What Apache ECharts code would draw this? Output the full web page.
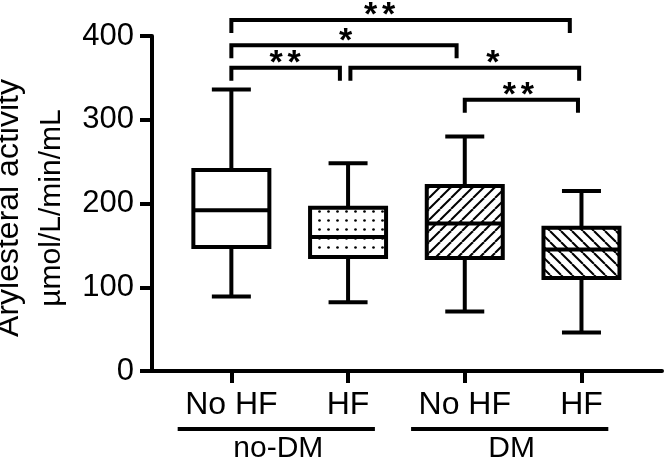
<!DOCTYPE html>
<html><head><meta charset="utf-8">
<script src="https://cdn.jsdelivr.net/npm/echarts@6/dist/echarts.min.js"></script>
<style>html,body{margin:0;padding:0;background:#fff}#c{width:664px;height:463px}</style>
</head><body><div id="c"></div>
<script>
const categories = ['No HF', 'HF', 'No HF', 'HF'];
const groupNames = ['no-DM', 'DM'];
const groupMembers = [[1, 2], [3, 4]];
const whiskerLow = [89, 82, 71, 46];
const q1 = [148, 136, 135, 111];
const median = [192, 160, 176, 145];
const q3 = [240, 195, 221, 171];
const whiskerHigh = [336, 248, 280, 215];
const yTickValues = [0, 100, 200, 300, 400];
const bracketFrom = [1, 1, 1, 2.02, 3.0];
const bracketTo = [3.9, 2.93, 1.93, 3.98, 3.97];
const bracketLevel = [419, 389, 362, 362, 324];
const bracketStars = ['**', '*', '**', '*', '**'];
const bracketStarX = [2.27, 1.98, 1.46, 3.24, 3.46];
const yNameLines = ['Arylesteral activity', 'µmol/L/min/mL'];

const FONT = '"Liberation Sans", Arial, sans-serif';

function makePattern(kind) {
  const c = document.createElement('canvas');
  const ctx = c.getContext('2d');
  if (kind === 'dots') {
    c.width = 9; c.height = 9;
    ctx.fillStyle = '#fff'; ctx.fillRect(0, 0, 9, 9);
    ctx.fillStyle = '#000';
    ctx.beginPath(); ctx.arc(4.5, 4.5, 1.35, 0, Math.PI * 2); ctx.fill();
  } else {
    const s = 11;
    c.width = s; c.height = s;
    ctx.fillStyle = '#fff'; ctx.fillRect(0, 0, s, s);
    ctx.strokeStyle = '#000'; ctx.lineWidth = 2;
    for (const o of [-s, 0, s]) {
      ctx.beginPath();
      if (kind === 'fwd') { ctx.moveTo(o, s); ctx.lineTo(o + s, 0); }
      else { ctx.moveTo(o, 0); ctx.lineTo(o + s, s); }
      ctx.stroke();
    }
  }
  return { image: c, repeat: 'repeat' };
}
const fills = ['#fff', makePattern('dots'), makePattern('fwd'), makePattern('back')];

const chart = echarts.init(document.getElementById('c'), null, { renderer: 'canvas' });

const boxData = categories.map((c, i) => [i + 1, whiskerLow[i], q1[i], median[i], q3[i], whiskerHigh[i]]);
const bracketData = bracketFrom.map((f, i) => [f, bracketTo[i], bracketLevel[i], bracketStarX[i], i]);
const groupData = groupMembers.map((m, i) => [m[0], m[1], i]);

const LW = 4;
const lineStyle = { stroke: '#000', lineWidth: LW, lineCap: 'butt', lineJoin: 'miter' };

function starText(x, y) {
  return { type: 'text', style: { text: '*', x: x, y: y, align: 'center', verticalAlign: 'middle',
    fontSize: 34, fontWeight: 'bold', fontFamily: FONT, fill: '#000' } };
}

chart.setOption({
  animation: false,
  backgroundColor: '#fff',
  grid: { left: 152, right: 2, top: 36, bottom: 92 },
  xAxis: {
    type: 'value', min: 0.32, max: 4.69,
    axisLine: { show: true, onZero: false, lineStyle: { color: '#000', width: LW } },
    axisTick: { show: true, customValues: [1, 2, 3, 4], length: 12, lineStyle: { color: '#000', width: LW } },
    axisLabel: {
      show: true, customValues: [1, 2, 3, 4], margin: 18,
      formatter: v => categories[Math.round(v) - 1] || '',
      color: '#000', fontSize: 32, fontFamily: FONT
    },
    splitLine: { show: false }
  },
  yAxis: {
    type: 'value', min: 0, max: 400, interval: 100,
    axisLine: { show: true, lineStyle: { color: '#000', width: LW } },
    axisTick: { show: true, length: 12, lineStyle: { color: '#000', width: LW } },
    axisLabel: { margin: 18, color: '#000', fontSize: 31, fontFamily: FONT },
    splitLine: { show: false }
  },
  graphic: [
    { type: 'text', x: 9, y: 208, rotation: Math.PI / 2,
      style: { text: yNameLines[0], font: '32px ' + FONT, fill: '#000', align: 'center', verticalAlign: 'middle' } },
    { type: 'text', x: 52, y: 208, rotation: Math.PI / 2,
      style: { text: yNameLines[1], font: '30px ' + FONT, fill: '#000', align: 'center', verticalAlign: 'middle' } }
  ],
  series: [
    {
      type: 'custom', clip: false, data: boxData,
      encode: { x: 0, y: [1, 2, 3, 4, 5] },
      renderItem: (params, api) => {
        const x = api.value(0);
        const pLow = api.coord([x, api.value(1)]);
        const pQ1 = api.coord([x, api.value(2)]);
        const pMed = api.coord([x, api.value(3)]);
        const pQ3 = api.coord([x, api.value(4)]);
        const pHigh = api.coord([x, api.value(5)]);
        const cx = pLow[0];
        const bh = 38, ch = 19.5;
        return {
          type: 'group',
          children: [
            { type: 'line', shape: { x1: cx, y1: pQ1[1], x2: cx, y2: pLow[1] }, style: lineStyle },
            { type: 'line', shape: { x1: cx, y1: pQ3[1], x2: cx, y2: pHigh[1] }, style: lineStyle },
            { type: 'line', shape: { x1: cx - ch, y1: pLow[1], x2: cx + ch, y2: pLow[1] }, style: lineStyle },
            { type: 'line', shape: { x1: cx - ch, y1: pHigh[1], x2: cx + ch, y2: pHigh[1] }, style: lineStyle },
            { type: 'rect', shape: { x: cx - bh, y: pQ3[1], width: bh * 2, height: pQ1[1] - pQ3[1] },
              style: { fill: fills[params.dataIndex], stroke: '#000', lineWidth: LW, lineJoin: 'miter' } },
            { type: 'line', shape: { x1: cx - bh, y1: pMed[1], x2: cx + bh, y2: pMed[1] }, style: lineStyle }
          ]
        };
      }
    },
    {
      type: 'custom', clip: false, data: bracketData,
      encode: { x: [0, 1], y: 2 },
      renderItem: (params, api) => {
        const a = api.coord([api.value(0), api.value(2)]);
        const b = api.coord([api.value(1), api.value(2)]);
        const t = api.coord([api.value(3), api.value(2)]);
        const leg = 13;
        const n = bracketStars[api.value(4)].length;
        const ty = t[1] - 4;
        const stars = n === 2 ? [starText(t[0] - 9, ty), starText(t[0] + 9, ty)] : [starText(t[0], ty)];
        return {
          type: 'group',
          children: [
            { type: 'polyline', shape: { points: [[a[0], a[1] + leg], [a[0], a[1]], [b[0], b[1]], [b[0], b[1] + leg]] },
              style: Object.assign({ fill: null }, lineStyle) }
          ].concat(stars)
        };
      }
    },
    {
      type: 'custom', clip: false, data: groupData,
      encode: { x: [0, 1] },
      renderItem: (params, api) => {
        const a = api.coord([api.value(0) - 0.46, 0]);
        const b = api.coord([api.value(1) + 0.23, 0]);
        const y = a[1] + 58;
        return {
          type: 'group',
          children: [
            { type: 'line', shape: { x1: a[0], y1: y, x2: b[0], y2: y }, style: lineStyle },
            { type: 'text', style: { text: groupNames[api.value(2)], x: (a[0] + b[0]) / 2 + 2, y: y + 20,
              align: 'center', verticalAlign: 'middle', fontSize: 30, fontFamily: FONT, fill: '#000' } }
          ]
        };
      }
    }
  ]
});
</script>
</body></html>
